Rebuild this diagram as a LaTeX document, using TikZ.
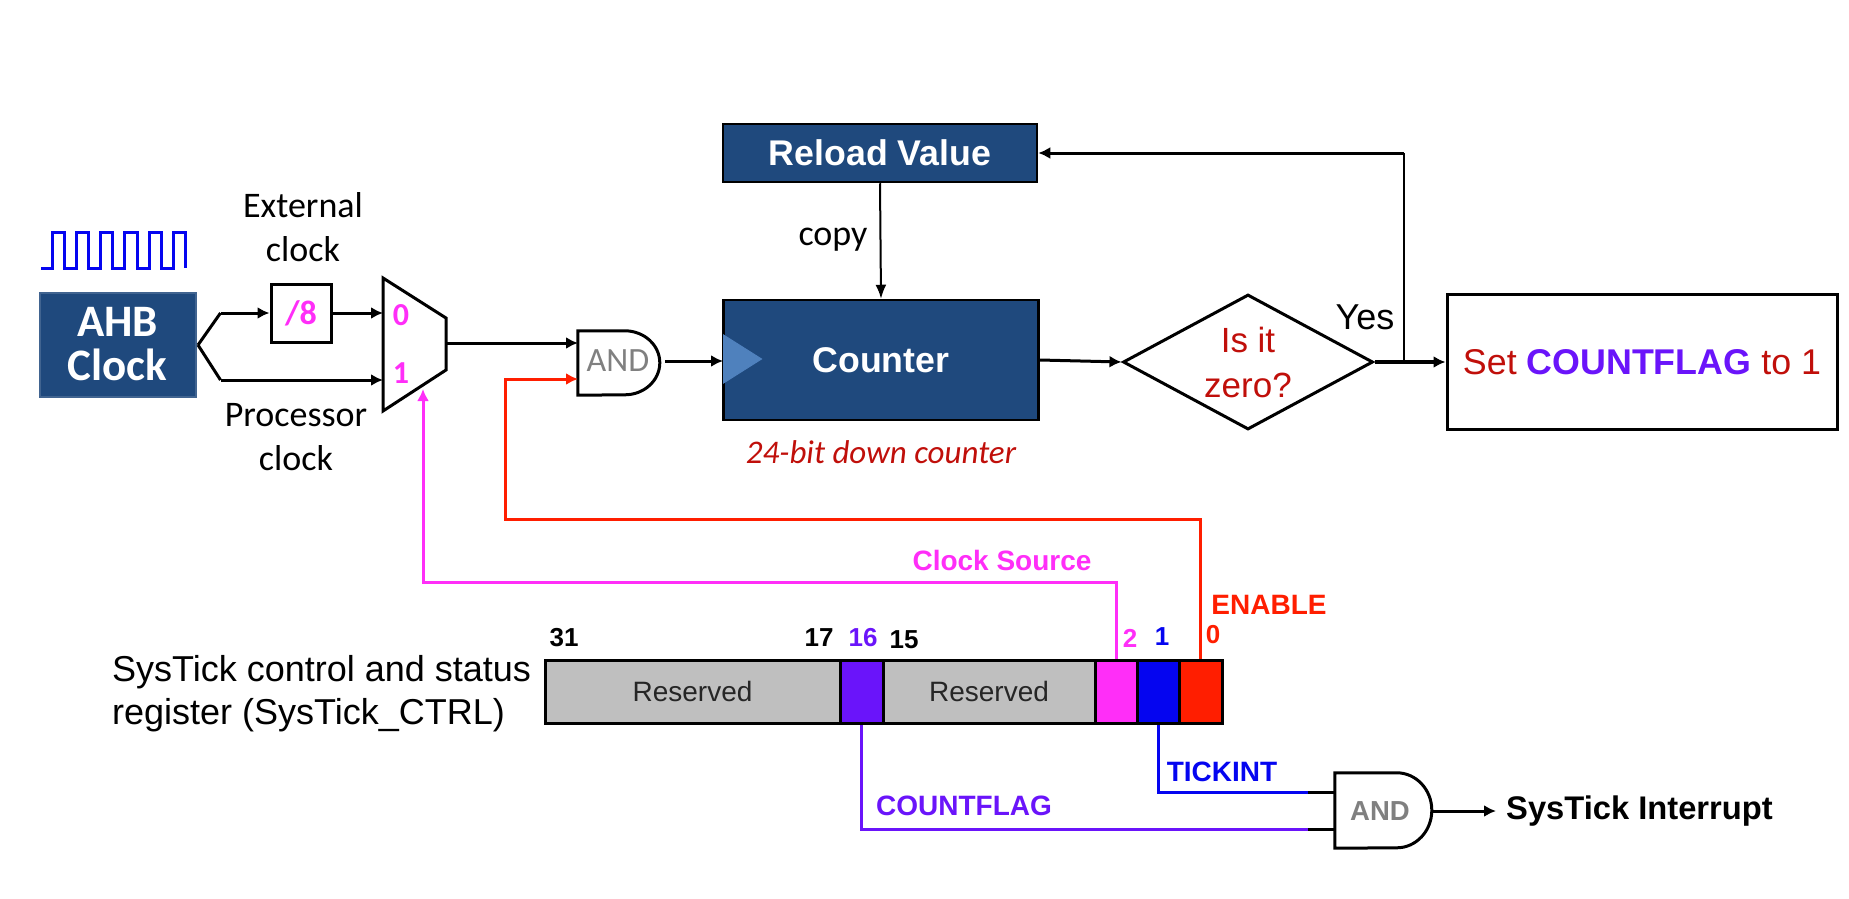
\documentclass[tikz,border=0pt]{standalone}
\usepackage{fontspec}
\setmainfont{Liberation Sans}
\newfontfamily\gillfont{Carlito}
\usepackage{tikz}
\usetikzlibrary{shapes,arrows.meta}
\definecolor{navybox}{HTML}{1F497D}
\definecolor{trianglefill}{HTML}{4F81BD}
\definecolor{redtext}{HTML}{C00F0A}
\definecolor{srcpink}{HTML}{FF2EF8}
\definecolor{flagpurple}{HTML}{6A14FA}
\definecolor{tickblue}{HTML}{0505F0}
\definecolor{enred}{HTML}{FF1E00}
\definecolor{resgray}{HTML}{BFBFBF}
\newcommand{\fsz}[1]{\fontsize{#1}{#1}\selectfont}

\begin{document}
\begin{tikzpicture}[x=1pt,y=-1pt]
\useasboundingbox (0,0) rectangle (1849,899);

% Define box, label and wire styles
\tikzstyle{navy} = [draw=black, line width=2.5pt, fill=navybox, text=white,
    font=\bfseries\fsz{35.7}, inner sep=0pt]
\tikzstyle{regcell} = [draw=black, line width=3pt, minimum height=63pt, inner sep=0pt,
    font=\fsz{28}, text=black!85]
\tikzstyle{gilltext} = [align=center, inner sep=0pt, font=\gillfont\fontsize{36}{44}\selectfont]
\tikzstyle{biglabel} = [inner sep=0pt, font=\bfseries\fsz{28}]
\tikzstyle{bitno} = [inner sep=0pt, font=\bfseries\fsz{26}]
\tikzstyle{wire} = [line width=3pt, -{Latex[length=12pt,width=12pt]}]
\tikzstyle{gate} = [line width=3pt, draw=black, fill=white]

% Clock source
\draw[tickblue, line width=3pt] (41,268) -- (52,268) -- (52,232) -- (64,232) -- (64,268)
    -- (76,268) -- (76,232) -- (88,232) -- (88,268) -- (100,268) -- (100,232) -- (112,232)
    -- (112,268) -- (124,268) -- (124,232) -- (137,232) -- (137,268) -- (149,268)
    -- (149,232) -- (161,232) -- (161,268) -- (173,268) -- (173,232) -- (185,232) -- (185,268);
\node[draw=navybox!85!white, line width=2pt, fill=navybox, text=white, minimum width=156pt, minimum height=104pt,
    align=center, inner sep=0pt, font=\gillfont\bfseries\fontsize{45}{44}\selectfont] (ahb) at (117.5,344.5) {AHB\\Clock};
\node[gilltext] (extlabel) at (303,227) {External\\clock};
\node[gilltext] (proclabel) at (296,437) {Processor\\clock};
\node[draw=black, line width=3pt, minimum width=60pt, minimum height=58pt, inner sep=0pt,
    text=srcpink, font=\gillfont\bfseries\fsz{34}] (div) at (301,313) {/8};

% Multiplexer
\draw[gate] (383,278) -- (446,318) -- (446,370) -- (383,411) -- cycle;
\coordinate (muxzero) at (383,313);
\coordinate (muxone) at (383,380);
\coordinate (muxout) at (446,343);
\coordinate (muxsel) at (423,389);
\node[inner sep=0pt, text=srcpink, font=\gillfont\bfseries\fsz{32}] (zero) at (401,315) {0};
\node[inner sep=0pt, text=srcpink, font=\gillfont\bfseries\fsz{32}] (one) at (401,373) {1};
\coordinate (fork) at (198,345);

% Enable gate
\node[minimum width=82pt, minimum height=64pt, inner sep=0pt] (andone) at (619,363) {};
\draw[gate] (andone.north west) -- ++(47,0) arc[start angle=90, end angle=-90, x radius=35pt, y radius=32pt] -- (andone.south west) -- cycle;
\node[inner sep=0pt, text=black!50, font=\gillfont\fsz{34}] (andtext) at (618,361) {AND};
\coordinate (andin) at (578,343);
\coordinate (enin) at (578,379);
\coordinate (andout) at (665,361);

% Counter path
\node[navy, minimum width=314pt, minimum height=58pt] (reload) at (880,153) {Reload Value};
\node[navy, minimum width=315pt, minimum height=120pt] (counter) at (881,360) {Counter};
\fill[draw=trianglefill, fill=trianglefill, line width=1pt] (723.5,335) -- (761.5,359) -- (723.5,383) -- cycle;
\coordinate (ctrin) at (723,361);
\node[gilltext, text=redtext, font=\gillfont\itshape\fsz{33}] (ctrlabel) at (881,452) {24-bit down counter};
\node[gilltext] (copylabel) at (833,240) {copy};
\node[diamond, draw=black, line width=3pt, aspect=1.85, minimum width=250pt, minimum height=135pt, inner sep=0pt,
    align=center, text=redtext, font=\fontsize{35}{45}\selectfont] (zerotest) at (1248,362) {Is it\\zero?};
\node[inner sep=0pt, font=\fsz{36}] (yeslabel) at (1365,317) {Yes};
\coordinate (yes) at (1404,362);
\node[draw=black, line width=3pt, minimum width=390pt, minimum height=135pt, inner sep=0pt, text=redtext,
    font=\fsz{35.8}] (setflag) at (1642,362) {Set \textcolor{flagpurple}{\bfseries COUNTFLAG} to 1};

% Register
\node[inner sep=0pt, align=left, anchor=west, font=\fontsize{36}{43.5}\selectfont] (regname) at (112,693.5) {SysTick control and status\\register (SysTick\_CTRL)};
\node[regcell, fill=resgray, minimum width=295pt] (resvhi) at (692.5,692) {\raisebox{1pt}{Reserved}};
\node[regcell, fill=flagpurple, minimum width=43pt] (bitflag) at (861.5,692) {};
\node[regcell, fill=resgray, minimum width=212pt] (resvlo) at (989,692) {\raisebox{1pt}{Reserved}};
\node[regcell, fill=srcpink, minimum width=42pt] (bitsrc) at (1116,692) {};
\node[regcell, fill=tickblue, minimum width=42pt] (bittick) at (1158,692) {};
\node[regcell, fill=enred, minimum width=43pt] (biten) at (1200.5,692) {};
\node[bitno] (nthirtyone) at (564,638) {31};
\node[bitno] (nseventeen) at (819,638) {17};
\node[bitno, text=flagpurple] (nsixteen) at (863,638) {16};
\node[bitno] (nfifteen) at (904,640) {15};
\node[bitno, text=srcpink] (ntwo) at (1130,638) {2};
\node[bitno, text=tickblue] (none) at (1162,637) {1};
\node[bitno, text=enred] (nzero) at (1213,635) {0};
\node[biglabel, text=srcpink] (srclabel) at (1002,560) {Clock Source};
\node[biglabel, text=enred] (enlabel) at (1269,605) {ENABLE};
\node[biglabel, text=tickblue] (ticklabel) at (1222,772) {TICKINT};
\node[biglabel, text=flagpurple] (flaglabel) at (964,806) {COUNTFLAG};

% Interrupt gate
\node[minimum width=97pt, minimum height=75pt, inner sep=0pt] (andtwo) at (1383.5,810.5) {};
\draw[gate] (andtwo.north west) -- ++(62,0) arc[start angle=90, end angle=-90, x radius=35pt, y radius=37.5pt] -- (andtwo.south west) -- cycle;
\node[inner sep=0pt, text=black!50, font=\bfseries\fsz{27.5}] (andlabel) at (1380,811) {AND};
\node[inner sep=0pt, anchor=west, font=\bfseries\fsz{32.7}] (irq) at (1506,811.5) {SysTick Interrupt};
\coordinate (tickin) at (1335,792);
\coordinate (flagin) at (1335,829);
\coordinate (tickend) at (1308,792);
\coordinate (flagend) at (1308,829);
\coordinate (andtwoout) at (1433,811);

% Black wires
\draw[line width=3pt] (fork) -- (220.5,313);
\draw[wire] (220.5,313) -- (div.west |- 0,313);
\draw[line width=3pt] (fork) -- (220.5,380);
\draw[wire] (220.5,380) -- (muxone);
\draw[wire] (div.east) -- (muxzero);
\draw[wire] (muxout) -- (andin);
\draw[wire] (andout) -- (ctrin);
\draw[line width=2pt, -{Latex[length=14pt,width=11pt]}] (reload.south) -- (counter.north);
\draw[wire] (counter.east) -- (zerotest.west);
\draw[wire, line width=3.5pt] (zerotest.east) -- (setflag.west);
\draw[line width=2pt] (yes) -- (yes |- reload.east);
\draw[wire] (yes |- reload.east) -- (reload.east);
\draw[wire] (andtwoout) -- (1496,811);

% Control wires
\draw[enred, line width=3pt, -{Latex[length=12pt,width=12pt]}] (biten.north) -- (biten.north |- 0,519) -- (505.6,519) -- (505.6,379) -- (enin);
\draw[srcpink, line width=3pt, -{Latex[length=12pt,width=12pt]}] (bitsrc.north) -- (bitsrc.north |- 0,582) -- (muxsel |- 0,582) -- (muxsel);
\draw[tickblue, line width=3pt] (bittick.south) -- (bittick.south |- tickin) -- (tickend);
\draw[line width=3pt] (tickend) -- (tickin);
\draw[flagpurple, line width=3pt] (bitflag.south) -- (bitflag.south |- flagin) -- (flagend);
\draw[line width=3pt] (flagend) -- (flagin);
\end{tikzpicture}
\end{document}
